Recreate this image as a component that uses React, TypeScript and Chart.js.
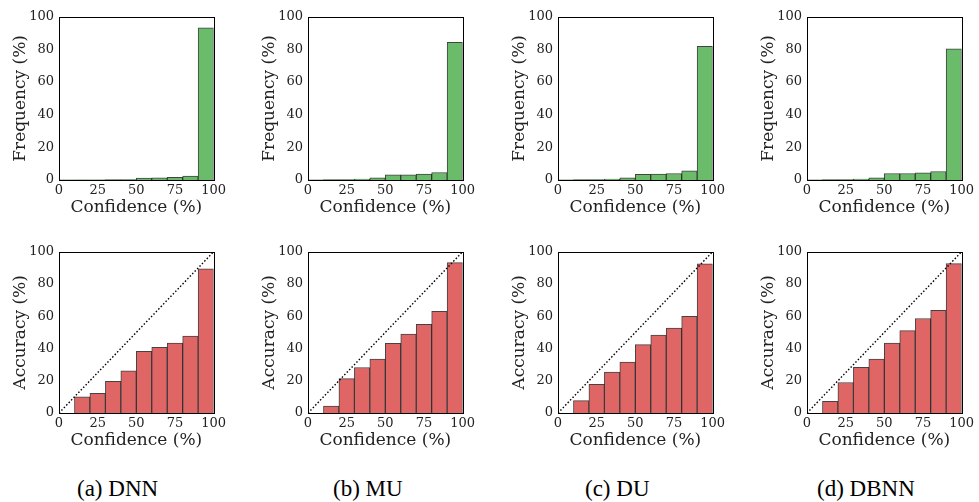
import React, { useEffect, useRef } from "react";
import { Chart, registerables } from "chart.js";

Chart.register(...registerables);

// ---- Data ----
const binCenters = [5, 15, 25, 35, 45, 55, 65, 75, 85, 95];
const xTicks = [0, 25, 50, 75, 100];
const yTicks = [0, 20, 40, 60, 80, 100];

const freqDNN = [0.05, 0.1, 0.1, 0.2, 0.2, 1.2, 1.4, 1.6, 2.4, 93.2];
const freqMU = [0.05, 0.2, 0.2, 0.6, 1.4, 3.2, 3.2, 3.6, 4.6, 84.3];
const freqDU = [0.05, 0.2, 0.3, 0.6, 1.4, 3.4, 3.6, 4.0, 5.6, 81.9];
const freqDBNN = [0.05, 0.2, 0.3, 0.6, 1.4, 4.0, 4.0, 4.4, 5.2, 80.3];

const accDNN = [0, 10.1, 12.2, 19.7, 26.2, 38.3, 40.8, 43.4, 47.7, 89.5];
const accMU = [0, 4.3, 21.3, 28.2, 33.5, 43.2, 48.9, 55.0, 63.1, 93.3];
const accDU = [0, 7.7, 17.8, 25.4, 31.6, 42.4, 48.3, 52.7, 60.0, 92.5];
const accDBNN = [0, 7.3, 18.9, 28.4, 33.5, 43.4, 51.1, 58.6, 63.7, 92.7];

const diagonal = [0, 100];

const captions = ["(a) DNN", "(b) MU", "(c) DU", "(d) DBNN"];
const freqSeries = [freqDNN, freqMU, freqDU, freqDBNN];
const accSeries = [accDNN, accMU, accDU, accDBNN];

// ---- Layout ----
const colLefts = [59, 308, 558, 807];
const captionLefts = [77, 333, 585, 817];
const PLOT_W = 158;
const Y_AXIS_W = 58;
const X_AXIS_H = 40;
const PAD_TOP = 10;
const PAD_RIGHT = 12;

const GREEN = "#6abb6a";
const RED = "#e06666";
const EDGE = "rgba(20,20,20,0.8)";
const SERIF = "'DejaVu Serif', serif";

const boxPlugin = {
  id: "boxPlugin",
  afterDatasetsDraw(chart: any) {
    const { ctx, chartArea } = chart;
    ctx.save();
    ctx.strokeStyle = "#000";
    ctx.lineWidth = 1;
    ctx.strokeRect(
      Math.round(chartArea.left) + 0.5,
      Math.round(chartArea.top) + 0.5,
      Math.round(chartArea.right - chartArea.left),
      Math.round(chartArea.bottom - chartArea.top)
    );
    ctx.restore();
  },
};

type PanelProps = {
  left: number;
  top: number;
  plotH: number;
  values: number[];
  color: string;
  yTitle: string;
  diag: boolean;
};

function Panel({ left, top, plotH, values, color, yTitle, diag }: PanelProps) {
  const ref = useRef<HTMLCanvasElement>(null);
  const cw = Y_AXIS_W + PLOT_W + PAD_RIGHT;
  const ch = PAD_TOP + plotH + X_AXIS_H;

  useEffect(() => {
    if (!ref.current) return;
    const datasets: any[] = [
      {
        type: "bar",
        data: binCenters.map((x, i) => ({ x, y: values[i] })),
        backgroundColor: color,
        borderColor: EDGE,
        borderWidth: 1,
        borderSkipped: "start",
        barPercentage: 1,
        categoryPercentage: 1,
        order: 2,
      },
    ];
    if (diag) {
      datasets.push({
        type: "line",
        data: diagonal.map((v) => ({ x: v, y: v })),
        borderColor: "#000",
        borderWidth: 1.4,
        borderDash: [1.5, 2],
        pointRadius: 0,
        fill: false,
        order: 1,
      });
    }
    const chart = new Chart(ref.current, {
      type: "bar",
      data: { datasets },
      options: {
        animation: false,
        responsive: false,
        maintainAspectRatio: false,
        layout: { padding: { left: 0, top: PAD_TOP, right: PAD_RIGHT, bottom: 0 } },
        plugins: { legend: { display: false }, tooltip: { enabled: false } },
        scales: {
          x: {
            type: "linear",
            min: 0,
            max: 100,
            offset: false,
            grid: { display: false, drawTicks: false },
            border: { display: false },
            afterBuildTicks: (scale: any) => {
              scale.ticks = xTicks.map((v) => ({ value: v }));
            },
            afterFit: (scale: any) => {
              scale.height = X_AXIS_H;
            },
            ticks: {
              font: { family: SERIF, size: 13 },
              color: "#222",
              padding: 3,
              maxRotation: 0,
              autoSkip: false,
            },
            title: {
              display: true,
              text: "Confidence (%)",
              font: { family: SERIF, size: 17 },
              color: "#222",
              padding: { top: 0, bottom: 2 },
            },
          },
          y: {
            type: "linear",
            min: 0,
            max: 100,
            grid: { display: false, drawTicks: false },
            border: { display: false },
            afterBuildTicks: (scale: any) => {
              scale.ticks = yTicks.map((v) => ({ value: v }));
            },
            afterFit: (scale: any) => {
              scale.width = Y_AXIS_W;
            },
            ticks: {
              font: { family: SERIF, size: 13 },
              color: "#222",
              padding: 5,
            },
            title: {
              display: true,
              text: yTitle,
              font: { family: SERIF, size: 17 },
              color: "#222",
              padding: { top: 9, bottom: 0 },
            },
          },
        },
      },
      plugins: [boxPlugin],
    } as any);
    return () => chart.destroy();
  }, []);

  return (
    <canvas
      ref={ref}
      width={cw}
      height={ch}
      style={{
        position: "absolute",
        left: left - Y_AXIS_W,
        top: top - PAD_TOP,
        width: cw,
        height: ch,
      }}
    />
  );
}

export default function App() {
  return (
    <div
      style={{
        position: "absolute",
        left: 0,
        top: 0,
        width: 979,
        height: 502,
        background: "#fff",
        overflow: "hidden",
      }}
    >
      {colLefts.map((L, i) => (
        <Panel
          key={"f" + i}
          left={L}
          top={14}
          plotH={166}
          values={freqSeries[i]}
          color={GREEN}
          yTitle="Frequency (%)"
          diag={false}
        />
      ))}
      {colLefts.map((L, i) => (
        <Panel
          key={"a" + i}
          left={L}
          top={249}
          plotH={164}
          values={accSeries[i]}
          color={RED}
          yTitle="Accuracy (%)"
          diag={true}
        />
      ))}
      {captions.map((c, i) => (
        <div
          key={"c" + i}
          style={{
            position: "absolute",
            left: captionLefts[i],
            top: 477,
            fontFamily: "'Liberation Serif', 'Times New Roman', serif",
            fontSize: 23,
            lineHeight: "23px",
            whiteSpace: "nowrap",
            color: "#000",
          }}
        >
          {c}
        </div>
      ))}
    </div>
  );
}
